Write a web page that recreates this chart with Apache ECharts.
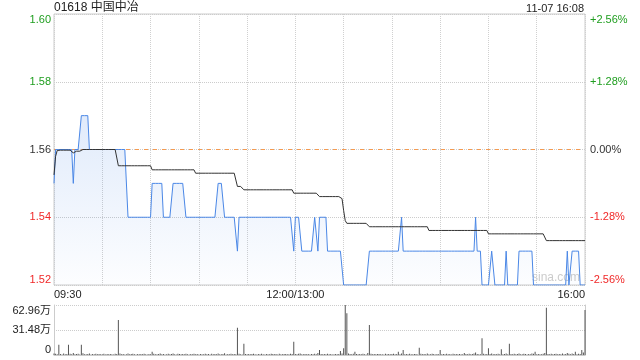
<!DOCTYPE html>
<html>
<head>
<meta charset="utf-8">
<script src="https://cdn.jsdelivr.net/npm/echarts@6/dist/echarts.min.js"></script>
<style>html,body{margin:0;padding:0;background:#fff}#c{width:640px;height:360px}</style>
</head>
<body>
<div id="c"></div>
<script>
// minute index since 09:30 (12:00/13:00 share index 150), 0..330
const xTickValues = [0, 150, 330];
const xTickTexts = ['09:30', '12:00/13:00', '16:00'];
const prevClose = 1.56;
const priceTicks = [1.52, 1.54, 1.56, 1.58, 1.60];
const volTickValues = [0, 314800, 629600];
const volTickTexts = ['0', '31.48万', '62.96万'];
const titleText = '01618 中国中冶';
const timeText = '11-07 16:08';

const price = [
1.55,1.56,1.56,1.56,1.56,1.56,1.56,1.56,1.56,1.56,
1.56,1.56,1.55,1.56,1.56,1.56,1.56,1.57,1.57,1.57,
1.57,1.57,1.56,1.56,1.56,1.56,1.56,1.56,1.56,1.56,
1.56,1.56,1.56,1.56,1.56,1.56,1.56,1.56,1.56,1.56,
1.56,1.56,1.56,1.56,1.56,1.56,1.54,1.54,1.54,1.54,
1.54,1.54,1.54,1.54,1.54,1.54,1.54,1.54,1.54,1.54,
1.54,1.55,1.55,1.55,1.55,1.55,1.55,1.55,1.54,1.54,
1.54,1.54,1.54,1.54,1.55,1.55,1.55,1.55,1.55,1.55,
1.55,1.55,1.54,1.54,1.54,1.54,1.54,1.54,1.54,1.54,
1.54,1.54,1.54,1.54,1.54,1.54,1.54,1.54,1.54,1.54,
1.54,1.54,1.55,1.55,1.55,1.55,1.54,1.54,1.54,1.54,
1.54,1.54,1.54,1.54,1.53,1.54,1.54,1.54,1.54,1.54,
1.54,1.54,1.54,1.54,1.54,1.54,1.54,1.54,1.54,1.54,
1.54,1.54,1.54,1.54,1.54,1.54,1.54,1.54,1.54,1.54,
1.54,1.54,1.54,1.54,1.54,1.54,1.54,1.54,1.54,1.53,
1.54,1.54,1.54,1.54,1.53,1.53,1.53,1.53,1.53,1.53,
1.53,1.53,1.54,1.54,1.53,1.54,1.54,1.54,1.54,1.54,
1.53,1.53,1.53,1.53,1.53,1.53,1.53,1.53,1.53,1.53,
1.52,1.52,1.52,1.52,1.52,1.52,1.52,1.52,1.52,1.52,
1.52,1.52,1.52,1.52,1.52,1.52,1.53,1.53,1.53,1.53,
1.53,1.53,1.53,1.53,1.53,1.53,1.53,1.53,1.53,1.53,
1.53,1.53,1.53,1.53,1.53,1.53,1.54,1.53,1.53,1.53,
1.53,1.53,1.53,1.53,1.53,1.53,1.53,1.53,1.53,1.53,
1.53,1.53,1.53,1.53,1.53,1.53,1.53,1.53,1.53,1.53,
1.53,1.53,1.53,1.53,1.53,1.53,1.53,1.53,1.53,1.53,
1.53,1.53,1.53,1.53,1.53,1.53,1.53,1.53,1.53,1.53,
1.53,1.53,1.54,1.53,1.53,1.53,1.52,1.52,1.52,1.52,
1.52,1.52,1.53,1.53,1.52,1.52,1.52,1.52,1.52,1.52,
1.52,1.53,1.52,1.52,1.52,1.52,1.52,1.52,1.52,1.53,
1.53,1.53,1.53,1.53,1.53,1.53,1.53,1.53,1.52,1.52,
1.52,1.52,1.52,1.52,1.52,1.52,1.52,1.52,1.52,1.52,
1.52,1.52,1.52,1.52,1.52,1.52,1.52,1.52,1.52,1.53,
1.52,1.52,1.53,1.53,1.53,1.53,1.53,1.52,1.52,1.52,
1.52
];

const avgPrice = [
1.5525,1.5580,1.5597,1.5598,1.5598,1.5598,1.5598,1.5598,1.5598,1.5598,
1.5598,1.5598,1.5590,1.5593,1.5595,1.5595,1.5595,1.5599,1.5600,1.5600,
1.5600,1.5600,1.5600,1.5600,1.5600,1.5600,1.5600,1.5600,1.5600,1.5600,
1.5600,1.5600,1.5600,1.5600,1.5600,1.5600,1.5600,1.5600,1.5600,1.5600,
1.5552,1.5552,1.5552,1.5552,1.5552,1.5552,1.5552,1.5552,1.5552,1.5552,
1.5552,1.5552,1.5552,1.5552,1.5552,1.5552,1.5552,1.5552,1.5552,1.5552,
1.5552,1.5540,1.5540,1.5540,1.5540,1.5540,1.5540,1.5540,1.5540,1.5540,
1.5540,1.5540,1.5540,1.5540,1.5540,1.5540,1.5540,1.5540,1.5540,1.5540,
1.5540,1.5540,1.5540,1.5540,1.5540,1.5540,1.5540,1.5540,1.5530,1.5530,
1.5530,1.5530,1.5530,1.5530,1.5530,1.5530,1.5530,1.5530,1.5530,1.5530,
1.5530,1.5530,1.5530,1.5530,1.5530,1.5530,1.5530,1.5530,1.5530,1.5530,
1.5530,1.5530,1.5530,1.5530,1.5491,1.5491,1.5491,1.5491,1.5481,1.5481,
1.5481,1.5481,1.5481,1.5481,1.5481,1.5481,1.5481,1.5481,1.5481,1.5481,
1.5481,1.5481,1.5481,1.5481,1.5481,1.5481,1.5481,1.5481,1.5481,1.5481,
1.5481,1.5481,1.5481,1.5481,1.5481,1.5481,1.5481,1.5481,1.5481,1.5471,
1.5471,1.5471,1.5471,1.5471,1.5471,1.5471,1.5471,1.5471,1.5471,1.5471,
1.5471,1.5471,1.5471,1.5471,1.5471,1.5461,1.5461,1.5461,1.5461,1.5461,
1.5461,1.5461,1.5461,1.5461,1.5461,1.5461,1.5461,1.5461,1.5461,1.5455,
1.5420,1.5390,1.5382,1.5382,1.5382,1.5382,1.5382,1.5382,1.5382,1.5382,
1.5382,1.5382,1.5382,1.5382,1.5382,1.5382,1.5372,1.5372,1.5372,1.5372,
1.5372,1.5372,1.5372,1.5372,1.5372,1.5372,1.5372,1.5372,1.5372,1.5372,
1.5372,1.5372,1.5372,1.5372,1.5372,1.5372,1.5372,1.5372,1.5372,1.5372,
1.5372,1.5372,1.5372,1.5372,1.5372,1.5372,1.5372,1.5372,1.5372,1.5372,
1.5372,1.5372,1.5372,1.5361,1.5361,1.5361,1.5361,1.5361,1.5361,1.5361,
1.5361,1.5361,1.5361,1.5361,1.5361,1.5361,1.5361,1.5361,1.5361,1.5361,
1.5361,1.5361,1.5361,1.5361,1.5361,1.5361,1.5361,1.5361,1.5361,1.5361,
1.5361,1.5361,1.5361,1.5361,1.5361,1.5361,1.5361,1.5361,1.5361,1.5361,
1.5351,1.5351,1.5351,1.5351,1.5351,1.5351,1.5351,1.5351,1.5351,1.5351,
1.5351,1.5351,1.5351,1.5351,1.5351,1.5351,1.5351,1.5351,1.5351,1.5351,
1.5351,1.5351,1.5351,1.5351,1.5351,1.5351,1.5351,1.5351,1.5351,1.5351,
1.5351,1.5351,1.5351,1.5351,1.5351,1.5351,1.5331,1.5331,1.5331,1.5331,
1.5331,1.5331,1.5331,1.5331,1.5331,1.5331,1.5331,1.5331,1.5331,1.5331,
1.5331,1.5331,1.5331,1.5331,1.5331,1.5331,1.5331,1.5331,1.5331,1.5331,
1.5331
];

const volume = [
20000,15000,8000,130000,12000,6000,18000,9000,14000,130000,
16000,10000,24000,8000,12000,15000,7000,130000,22000,11000,
9000,14000,18000,6000,12000,10000,16000,8000,13000,9000,
11000,15000,7000,12000,9000,14000,10000,6000,16000,12000,
440000,18000,9000,13000,7000,11000,20000,8000,12000,15000,
10000,6000,14000,9000,12000,8000,16000,11000,7000,13000,
9000,42000,15000,10000,8000,12000,18000,9000,14000,7000,
11000,16000,8000,13000,20000,10000,6000,15000,12000,9000,
14000,8000,17000,11000,7000,12000,9000,15000,10000,13000,
6000,14000,11000,8000,16000,9000,12000,7000,15000,10000,
13000,8000,18000,11000,9000,14000,22000,7000,12000,10000,
15000,8000,13000,9000,344000,16000,11000,7000,142000,12000,
9000,14000,8000,12000,16000,10000,7000,13000,9000,15000,
11000,6000,14000,10000,8000,17000,12000,9000,13000,7000,
15000,10000,8000,12000,14000,9000,11000,16000,13000,168000,
12000,9000,15000,20000,11000,8000,14000,10000,13000,7000,
12000,9000,16000,11000,25000,63000,14000,8000,12000,10000,
15000,9000,13000,7000,11000,14000,8000,12000,50000,18000,
84000,629600,525000,20000,14000,10000,16000,42000,12000,9000,
13000,8000,15000,11000,7000,24000,378000,16000,10000,13000,
8000,12000,14000,9000,11000,7000,15000,10000,13000,8000,
12000,16000,9000,14000,42000,11000,18000,63000,10000,13000,
8000,15000,11000,9000,14000,12000,7000,92000,16000,10000,
13000,8000,20000,11000,9000,15000,12000,7000,14000,10000,
63000,9000,13000,8000,16000,11000,12000,7000,15000,10000,
12000,9000,14000,8000,11000,25000,13000,10000,16000,9000,
12000,18000,30000,14000,10000,11000,210000,15000,9000,13000,
84000,12000,20000,10000,14000,8000,16000,11000,71000,9000,
13000,18000,10000,142000,12000,9000,15000,8000,14000,20000,
11000,9000,16000,12000,7000,13000,10000,18000,15000,42000,
9000,14000,11000,8000,16000,25000,596000,13000,10000,15000,
9000,12000,17000,8000,14000,11000,20000,10000,13000,24000,
15000,9000,18000,12000,42000,11000,16000,14000,63000,30000,
567000
];

const FONT = '"Liberation Sans", Arial, "Noto Sans CJK SC", sans-serif';
const GREEN = '#1f9e1f';
const RED = '#f02828';
const GRAY = '#333333';

function priceColor(v) {
  v = parseFloat(v);
  if (Math.abs(v - prevClose) < 1e-6) return GRAY;
  return v > prevClose ? GREEN : RED;
}

const priceData = price.map((v, i) => [i, v]);
const avgData = avgPrice.map((v, i) => [i, v]);
const volData = volume.map((v, i) => [i, v]);

const chart = echarts.init(document.getElementById('c'), null, {renderer: 'canvas'});
chart.setOption({
  animation: false,
  backgroundColor: '#fff',
  textStyle: {fontFamily: FONT},
  graphic: [
    {type: 'text', left: 54, top: 2, style: {text: titleText, font: '12px ' + FONT, fill: '#222'}},
    {type: 'text', right: 56, top: 3, style: {text: timeText, font: '11px ' + FONT, fill: '#222'}},
    {type: 'text', left: 532, top: 272, z: 0, style: {text: 'sina.com', font: '12px ' + FONT, fill: '#cccccc'}}
  ],
  grid: [
    {left: 54, right: 55, top: 14, height: 271, show: true, borderColor: '#cccccc', borderWidth: 1},
    {left: 54, right: 55, top: 305, height: 50, show: false}
  ],
  xAxis: [
    {
      type: 'value', gridIndex: 0, min: 0, max: 330, interval: 30,
      axisLine: {show: false}, axisTick: {show: false},
      splitLine: {show: true, lineStyle: {color: '#d0d0d0', type: 'dotted', width: 1}},
      axisLabel: {
        margin: 4, fontSize: 11, color: '#222', fontFamily: FONT,
        alignMinLabel: 'left', alignMaxLabel: 'right',
        formatter: function (v) {
          const k = xTickValues.indexOf(Math.round(v));
          return k >= 0 ? xTickTexts[k] : '';
        }
      }
    },
    {
      type: 'value', gridIndex: 1, min: 0, max: 330, interval: 30,
      axisLine: {show: true, lineStyle: {color: '#cccccc'}}, axisTick: {show: false},
      splitLine: {show: false}, axisLabel: {show: false}
    }
  ],
  yAxis: [
    {
      type: 'value', gridIndex: 0, min: priceTicks[0], max: priceTicks[priceTicks.length - 1], interval: 0.02,
      axisLine: {show: false}, axisTick: {show: false},
      splitLine: {show: true, lineStyle: {color: '#cccccc', type: 'dotted'}},
      axisLabel: {
        margin: 3, fontSize: 11, fontFamily: FONT,
        verticalAlignMaxLabel: 'top', verticalAlignMinLabel: 'bottom',
        formatter: v => Number(v).toFixed(2),
        color: v => priceColor(v)
      }
    },
    {
      type: 'value', gridIndex: 0, position: 'right', min: priceTicks[0], max: priceTicks[priceTicks.length - 1], interval: 0.02,
      axisLine: {show: false}, axisTick: {show: false}, splitLine: {show: false},
      axisLabel: {
        margin: 5, fontSize: 11, fontFamily: FONT,
        verticalAlignMaxLabel: 'top', verticalAlignMinLabel: 'bottom',
        formatter: function (v) {
          const pct = (Number(v) - prevClose) / prevClose * 100;
          const s = Math.abs(pct).toFixed(2) + '%';
          if (Math.abs(pct) < 1e-6) return '0.00%';
          return (pct > 0 ? '+' : '-') + s;
        },
        color: v => priceColor(v)
      }
    },
    {
      type: 'value', gridIndex: 1, min: 0, max: volTickValues[2], interval: volTickValues[1],
      axisLine: {show: true, lineStyle: {color: '#cccccc'}}, axisTick: {show: false},
      splitLine: {show: true, lineStyle: {color: '#cccccc', type: 'dotted'}},
      axisLabel: {
        margin: 3, fontSize: 11, color: '#222', fontFamily: FONT,
        verticalAlignMaxLabel: 'top', verticalAlignMinLabel: 'bottom',
        formatter: function (v) {
          const k = volTickValues.indexOf(Math.round(v));
          return k >= 0 ? volTickTexts[k] : '';
        }
      }
    },
    {
      type: 'value', gridIndex: 1, position: 'right', min: 0, max: volTickValues[2], interval: volTickValues[1],
      axisLine: {show: true, lineStyle: {color: '#cccccc'}}, axisTick: {show: false},
      splitLine: {show: false}, axisLabel: {show: false}
    }
  ],
  series: [
    {
      type: 'line', xAxisIndex: 0, yAxisIndex: 0, data: priceData,
      showSymbol: false, symbol: 'none', z: 3,
      lineStyle: {color: '#4a87e6', width: 1},
      areaStyle: {
        color: new echarts.graphic.LinearGradient(0, 0, 0, 1, [
          {offset: 0, color: 'rgba(74,135,230,0.24)'},
          {offset: 1, color: 'rgba(74,135,230,0.02)'}
        ])
      },
      markLine: {
        silent: true, symbol: 'none', animation: false, z: 2,
        label: {show: false},
        lineStyle: {color: '#f59a50', type: [4, 5], width: 1, opacity: 1},
        data: [{yAxis: prevClose}]
      }
    },
    {
      type: 'line', xAxisIndex: 0, yAxisIndex: 0, data: avgData,
      showSymbol: false, symbol: 'none', z: 4,
      lineStyle: {color: '#333333', width: 1}
    },
    {
      type: 'bar', xAxisIndex: 1, yAxisIndex: 2, data: volData,
      barWidth: 1, itemStyle: {color: '#555555'}
    }
  ]
});
</script>
</body>
</html>
